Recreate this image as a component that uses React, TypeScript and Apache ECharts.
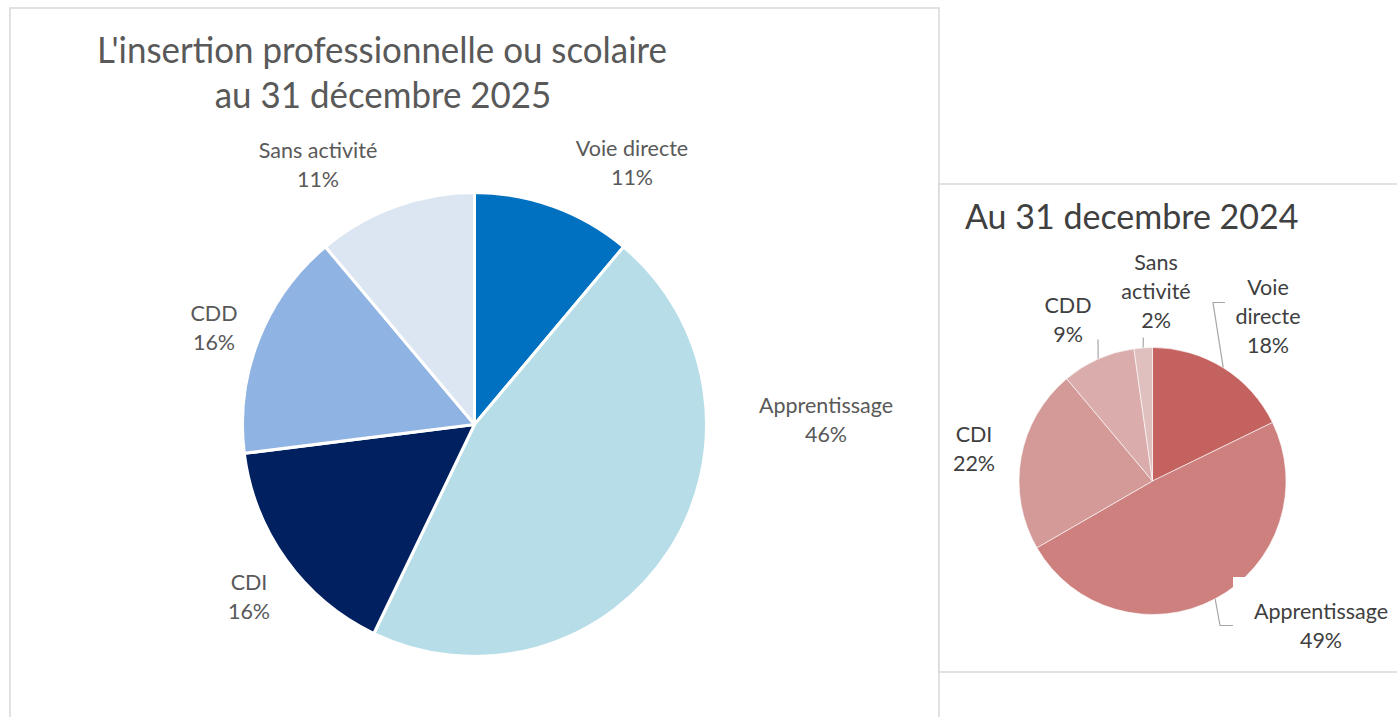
import React, { useEffect, useRef } from "react";
import * as echarts from "echarts";

const categories = ["Voie directe", "Apprentissage", "CDI", "CDD", "Sans activité"];
const values2025 = [7, 29, 10, 10, 7];
const values2024 = [8, 22, 10, 4, 1];
const colors2025 = ["#0070C0", "#B7DEE8", "#002060", "#8FB3E2", "#DCE6F2"];
const colors2024 = ["#C3625F", "#CD807E", "#D49A98", "#DAADAC", "#E0BFBF"];
const titleLeft = ["L'insertion professionnelle ou scolaire", "au 31 décembre 2025"];
const titleRight = "Au 31 decembre 2024";

// label anchor positions (centre of each label block)
const labelPos2025: [number, number][] = [
  [632, 162],
  [826, 419],
  [249, 596],
  [214, 327],
  [318, 164],
];
const labelPos2024: [number, number][] = [
  [1268, 316],
  [1321, 625],
  [974, 448],
  [1068, 319],
  [1156, 291],
];
// leader line bends (after the point on the pie edge)
const leader2024: ([number, number][] | null)[] = [
  [[1213, 302.5], [1225, 302.5]],
  [[1220, 625.5], [1233, 625.5]],
  null,
  [[1098, 339.5]],
  [[1143.3, 337.5]],
];

const FONT = "Lato, 'Open Sans', sans-serif";

export default function App() {
  const ref = useRef<HTMLDivElement>(null);
  useEffect(() => {
    if (!ref.current) return;
    const chart = echarts.init(ref.current, null, { renderer: "svg" });
    chart.setOption({
      animation: false,
      backgroundColor: "#ffffff",
      graphic: [
        {
          type: "rect",
          z: -10,
          shape: { x: 10, y: 8, width: 929, height: 730 },
          style: { fill: "#ffffff", stroke: "#D9D9D9", lineWidth: 1.5 },
        },
        {
          type: "rect",
          z: -10,
          shape: { x: 939, y: 184, width: 470, height: 488 },
          style: { fill: "#ffffff", stroke: "#D9D9D9", lineWidth: 1.5 },
        },
        {
          type: "text",
          x: 382,
          y: 49,
          scaleX: 0.97,
          style: {
            text: titleLeft[0],
            fontFamily: FONT,
            fontSize: 36,
            fill: "#595959",
            align: "center",
            verticalAlign: "middle",
          },
        },
        {
          type: "text",
          x: 383,
          y: 94,
          scaleX: 0.97,
          style: {
            text: titleLeft[1],
            fontFamily: FONT,
            fontSize: 36,
            fill: "#595959",
            align: "center",
            verticalAlign: "middle",
          },
        },
        {
          type: "text",
          x: 965,
          y: 215,
          style: {
            text: titleRight,
            fontFamily: FONT,
            fontSize: 34,
            fill: "#404040",
            align: "left",
            verticalAlign: "middle",
          },
        },
        {
          type: "rect",
          z: 100,
          shape: { x: 1233, y: 577, width: 12, height: 10 },
          style: { fill: "#ffffff" },
        },
      ],
      series: [
        {
          type: "pie",
          center: [474.5, 424.5],
          radius: 232,
          startAngle: 90,
          clockwise: true,
          silent: true,
          data: categories.map((c, i) => ({
            name: c,
            value: values2025[i],
            itemStyle: { color: colors2025[i] },
          })),
          itemStyle: { borderColor: "#ffffff", borderWidth: 3 },
          label: {
            show: true,
            position: "outside",
            overflow: "none",
            formatter: (p: any) => p.name + "\n" + Math.round(p.percent) + "%",
            fontFamily: FONT,
            fontSize: 21.5,
            color: "#595959",
            lineHeight: 29,
            align: "center",
          },
          labelLine: { show: false },
          labelLayout: (p: any) => {
            const pos = labelPos2025[p.dataIndex];
            return { x: pos[0], y: pos[1], align: "center", verticalAlign: "middle" };
          },
        },
        {
          type: "pie",
          center: [1152.5, 481],
          radius: 133.5,
          startAngle: 90,
          clockwise: true,
          silent: true,
          data: categories.map((c, i) => ({
            name: c,
            value: values2024[i],
            itemStyle: { color: colors2024[i] },
            labelLine: { show: leader2024[i] != null },
          })),
          itemStyle: { borderColor: "#ffffff", borderWidth: 0.6 },
          label: {
            show: true,
            position: "outside",
            overflow: "none",
            edgeDistance: 0,
            formatter: (p: any) =>
              (p.name === "Apprentissage" ? p.name : p.name.replace(" ", "\n")) +
              "\n" +
              Math.round(p.percent) +
              "%",
            fontFamily: FONT,
            fontSize: 21.5,
            color: "#404040",
            lineHeight: 29,
            align: "center",
          },
          labelLine: {
            show: true,
            smooth: false,
            lineStyle: { color: "#A6A6A6", width: 1.2 },
          },
          labelLayout: (p: any) => {
            const pos = labelPos2024[p.dataIndex];
            const res: any = { x: pos[0], y: pos[1], align: "center", verticalAlign: "middle" };
            const bends = leader2024[p.dataIndex];
            if (bends && p.labelLinePoints && p.labelLinePoints.length) {
              res.labelLinePoints = [p.labelLinePoints[0], ...bends];
            }
            return res;
          },
        },
      ],
    });
    return () => chart.dispose();
  }, []);
  return (
    <div
      ref={ref}
      style={{ position: "fixed", left: 0, top: 0, width: 1397, height: 717 }}
    />
  );
}
